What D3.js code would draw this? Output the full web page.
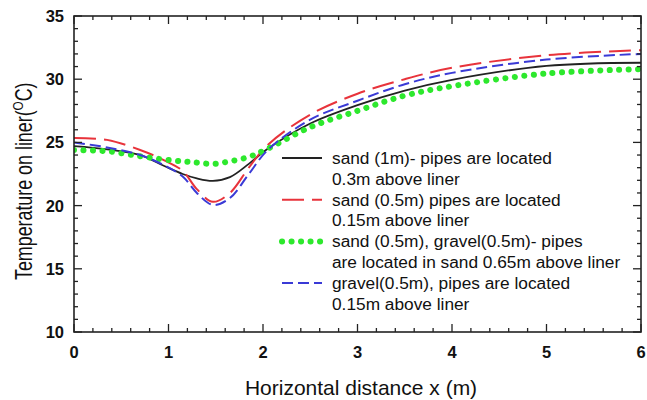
<!DOCTYPE html>
<html>
<head>
<meta charset="utf-8">
<script src="https://d3js.org/d3.v7.min.js"></script>
<style>
  html, body { margin: 0; padding: 0; background: #fff; }
  svg { display: block; font-family: "Liberation Sans", Arial, sans-serif; }
  .tick-label { font-size: 16.5px; font-weight: bold; fill: #111; }
  .axis-title { fill: #111; }
  .legend text { font-size: 17.3px; fill: #111; }
</style>
</head>
<body>
<div id="chart"></div>
<script>
// values
var xs = [0, 0.35, 0.7, 0.95, 1.15, 1.3, 1.47, 1.65, 1.85, 2.05, 2.5, 3.0, 3.5, 4.0, 5.0, 6.0];
var sand1m = [24.7, 24.45, 24.0, 23.15, 22.5, 22.15, 21.95, 22.25, 23.3, 24.5, 26.5, 27.95, 29.1, 29.95, 31.05, 31.3];
var sand05 = [25.35, 25.2, 24.4, 23.6, 22.75, 21.3, 20.3, 21.0, 23.0, 24.8, 27.2, 28.85, 30.0, 30.9, 31.9, 32.3];
var sandGravel = [24.4, 24.3, 23.9, 23.65, 23.5, 23.4, 23.3, 23.5, 23.85, 24.5, 26.2, 27.5, 28.7, 29.45, 30.45, 30.8];
var gravel05 = [25.0, 24.6, 24.0, 23.2, 22.3, 21.0, 20.05, 20.6, 22.5, 24.4, 26.8, 28.3, 29.6, 30.5, 31.55, 32.0];

var xTicks = [0, 1, 2, 3, 4, 5, 6];
var yTicks = [10, 15, 20, 25, 30, 35];

var series = [
  {name: ["sand (1m)- pipes are located", "0.3m above liner"], values: sand1m,
   color: "#222", width: 1.8, dash: null, cap: "butt"},
  {name: ["sand (0.5m) pipes are located", "0.15m above liner"], values: sand05,
   color: "#e8333b", width: 2, dash: "22 8", cap: "butt"},
  {name: ["sand (0.5m),  gravel(0.5m)- pipes", "are located in sand 0.65m above liner"], values: sandGravel,
   color: "#2de82d", width: 6, dash: "0.1 9.4", cap: "round"},
  {name: ["gravel(0.5m), pipes are located", "0.15m above liner"], values: gravel05,
   color: "#3a3ad6", width: 2, dash: "11 5", cap: "butt"}
];

var W = 647, H = 400;
var margin = {left: 74, right: 6, top: 16, bottom: 68};

var svg = d3.select("#chart").append("svg")
  .attr("width", W).attr("height", H);

var x = d3.scaleLinear().domain([0, 6]).range([margin.left, W - margin.right]);
var y = d3.scaleLinear().domain([10, 35]).range([H - margin.bottom, margin.top]);

// clip so wide dots stay inside the frame
svg.append("clipPath").attr("id", "plotclip").append("rect")
  .attr("x", x(0)).attr("y", y(35))
  .attr("width", x(6) - x(0)).attr("height", y(10) - y(35));

var line = d3.line()
  .x(function (d) { return x(d[0]); })
  .y(function (d) { return y(d[1]); })
  .curve(d3.curveCatmullRom.alpha(0.5));

var plot = svg.append("g").attr("clip-path", "url(#plotclip)");
series.forEach(function (s) {
  plot.append("path")
    .datum(xs.map(function (v, i) { return [v, s.values[i]]; }))
    .attr("d", line)
    .attr("fill", "none")
    .attr("stroke", s.color)
    .attr("stroke-width", s.width)
    .attr("stroke-dasharray", s.dash)
    .attr("stroke-linecap", s.cap);
});

// ticks inward on all four sides
var tickG = svg.append("g").attr("stroke", "#222").attr("stroke-width", 1.3);
d3.range(0, 6.001, 0.2).forEach(function (v) {
  var major = Math.abs(v - Math.round(v)) < 1e-6;
  var len = major ? 8 : 4;
  tickG.append("line").attr("x1", x(v)).attr("x2", x(v))
    .attr("y1", y(10)).attr("y2", y(10) - len);
  tickG.append("line").attr("x1", x(v)).attr("x2", x(v))
    .attr("y1", y(35)).attr("y2", y(35) + len);
});
d3.range(10, 35.001, 1).forEach(function (v) {
  var major = v % 5 === 0;
  var len = major ? 8 : 4;
  tickG.append("line").attr("y1", y(v)).attr("y2", y(v))
    .attr("x1", x(0)).attr("x2", x(0) + len);
  tickG.append("line").attr("y1", y(v)).attr("y2", y(v))
    .attr("x1", x(6)).attr("x2", x(6) - len);
});

// frame
svg.append("rect")
  .attr("x", x(0)).attr("y", y(35))
  .attr("width", x(6) - x(0)).attr("height", y(10) - y(35))
  .attr("fill", "none").attr("stroke", "#222").attr("stroke-width", 1.6);

// tick labels
svg.selectAll("text.xl").data(xTicks).enter().append("text")
  .attr("class", "tick-label")
  .attr("x", function (d) { return x(d); })
  .attr("y", y(10) + 26)
  .attr("text-anchor", "middle")
  .text(function (d) { return d; });

svg.selectAll("text.yl").data(yTicks).enter().append("text")
  .attr("class", "tick-label")
  .attr("x", x(0) - 10)
  .attr("y", function (d) { return y(d) + 6; })
  .attr("text-anchor", "end")
  .text(function (d) { return d; });

// axis titles
svg.append("text").attr("class", "axis-title")
  .attr("x", 361).attr("y", 395)
  .attr("font-size", "21px")
  .attr("text-anchor", "middle")
  .text("Horizontal distance x (m)");

// y title glyphs are tall and narrow in the original, so squeeze along the text
var yt = svg.append("text").attr("class", "axis-title")
  .attr("font-size", "23px")
  .attr("transform", "translate(32,280) rotate(-90) scale(0.776,1)");
yt.append("tspan").text("Temperature on liner(");
yt.append("tspan").attr("font-size", "15px").attr("dy", -9).text("O");
yt.append("tspan").attr("dy", 9).text("C)");

// legend
var legend = svg.append("g").attr("class", "legend");
series.forEach(function (s, i) {
  var ly = 158 + i * 41.7;
  legend.append("line")
    .attr("x1", 282).attr("x2", 322)
    .attr("y1", ly).attr("y2", ly)
    .attr("stroke", s.color)
    .attr("stroke-width", s.width)
    .attr("stroke-dasharray", s.dash)
    .attr("stroke-linecap", s.cap);
  s.name.forEach(function (t, j) {
    legend.append("text")
      .attr("x", 332).attr("y", ly + 6 + j * 20.5)
      .text(t);
  });
});
</script>
</body>
</html>
